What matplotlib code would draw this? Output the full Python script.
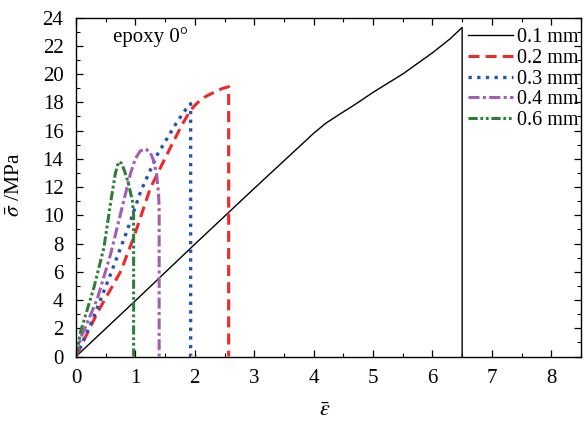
import matplotlib
matplotlib.use("Agg")
import matplotlib.pyplot as plt
from matplotlib.ticker import MultipleLocator

plt.rcParams['font.family'] = ['Liberation Serif', 'DejaVu Serif']
plt.rcParams['mathtext.fontset'] = 'stix'

# strain / stress curves for each layer thickness
labels = ['0.1 mm', '0.2 mm', '0.3 mm', '0.4 mm', '0.6 mm']

strain_01 = [0, 1.0, 2.0, 3.0, 4.0, 4.2, 4.4, 4.7, 5.0, 5.5, 6.0, 6.3, 6.5, 6.5]
stress_01 = [0, 3.95, 7.95, 11.9, 15.8, 16.5, 17.05, 17.85, 18.7, 20.0, 21.5, 22.5, 23.3, 0]

strain_02 = [0, 0.36, 0.75, 0.97, 1.25, 1.59, 1.79, 1.93, 2.04, 2.18, 2.32, 2.45, 2.57, 2.57]
stress_02 = [0, 3.1, 6.0, 8.4, 11.9, 14.8, 16.45, 17.45, 17.95, 18.4, 18.7, 18.95, 19.1, 0]

strain_03 = [0, 0.27, 0.58, 0.86, 1.09, 1.37, 1.70, 1.85, 1.93, 1.93, 2.03]
stress_03 = [0, 2.5, 5.8, 8.9, 11.7, 14.3, 16.6, 17.5, 17.9, 0, 0]

strain_04 = [0, 0.08, 0.36, 0.58, 0.75, 0.92, 1.0, 1.08, 1.17, 1.25, 1.31, 1.36, 1.39, 1.40, 1.40]
stress_04 = [0, 1.3, 4.1, 7.2, 10.1, 13.0, 14.0, 14.55, 14.7, 14.45, 13.85, 12.8, 11.5, 10.5, 0]

strain_06 = [0, 0.08, 0.30, 0.47, 0.58, 0.66, 0.70, 0.73, 0.77, 0.82, 0.88, 0.95, 0.97, 0.97]
stress_06 = [0, 1.8, 4.85, 7.7, 10.8, 12.9, 13.55, 13.8, 13.65, 13.1, 12.3, 11.0, 10.0, 0]

fig = plt.figure(figsize=(5.84, 4.21), dpi=100)
ax = fig.add_axes([0.1301, 0.1532, 0.8647, 0.8052])

ax.plot(strain_01, stress_01, color='black', lw=1.0, ls='-', label=labels[0])
ax.plot(strain_02, stress_02, color='#F0282A', lw=2.2, ls=(0, (3.6, 2.0)), label=labels[1])
ax.plot(strain_03, stress_03, color='#2456B0', lw=2.4, ls=(0, (1, 1.6)), label=labels[2])
ax.plot(strain_04, stress_04, color='#A45CB4', lw=2.2, ls=(0, (3.6, 1.1, 1, 1.1)), label=labels[3])
ax.plot(strain_06, stress_06, color='#2E7E3A', lw=2.2, ls=(0, (3.0, 0.9, 0.9, 0.9, 0.9, 0.9)), label=labels[4])

ax.set_xlim(0, 8.5)
ax.set_ylim(0, 24)
ax.xaxis.set_major_locator(MultipleLocator(1))
ax.xaxis.set_minor_locator(MultipleLocator(0.5))
ax.yaxis.set_major_locator(MultipleLocator(2))
ax.yaxis.set_minor_locator(MultipleLocator(1))
ax.tick_params(which='both', direction='in', top=True, right=True, labelsize=15)
ax.tick_params(which='major', length=5, width=0.9, pad=9)
ax.tick_params(which='minor', length=3, width=0.8)
for s in ax.spines.values():
    s.set_linewidth(1.0)

ax.set_xlabel(r'$\bar{\varepsilon}$', fontsize=16, va='top')
ax.xaxis.set_label_coords(0.493, -0.134)
ax.set_ylabel(r'$\bar{\sigma}$ /MPa', fontsize=15.5, va='center')
ax.yaxis.set_label_coords(-0.121, 0.506)

ax.text(0.62, 22.6, 'epoxy 0°', fontsize=15, va='center', ha='left')

leg = ax.legend(loc='upper left', bbox_to_anchor=(0.777, 0.9695), frameon=False,
                fontsize=14.5, handlelength=2.2, handletextpad=0.2,
                labelspacing=0.085, borderaxespad=0, borderpad=0)

fig.savefig('out.png', dpi=100)
